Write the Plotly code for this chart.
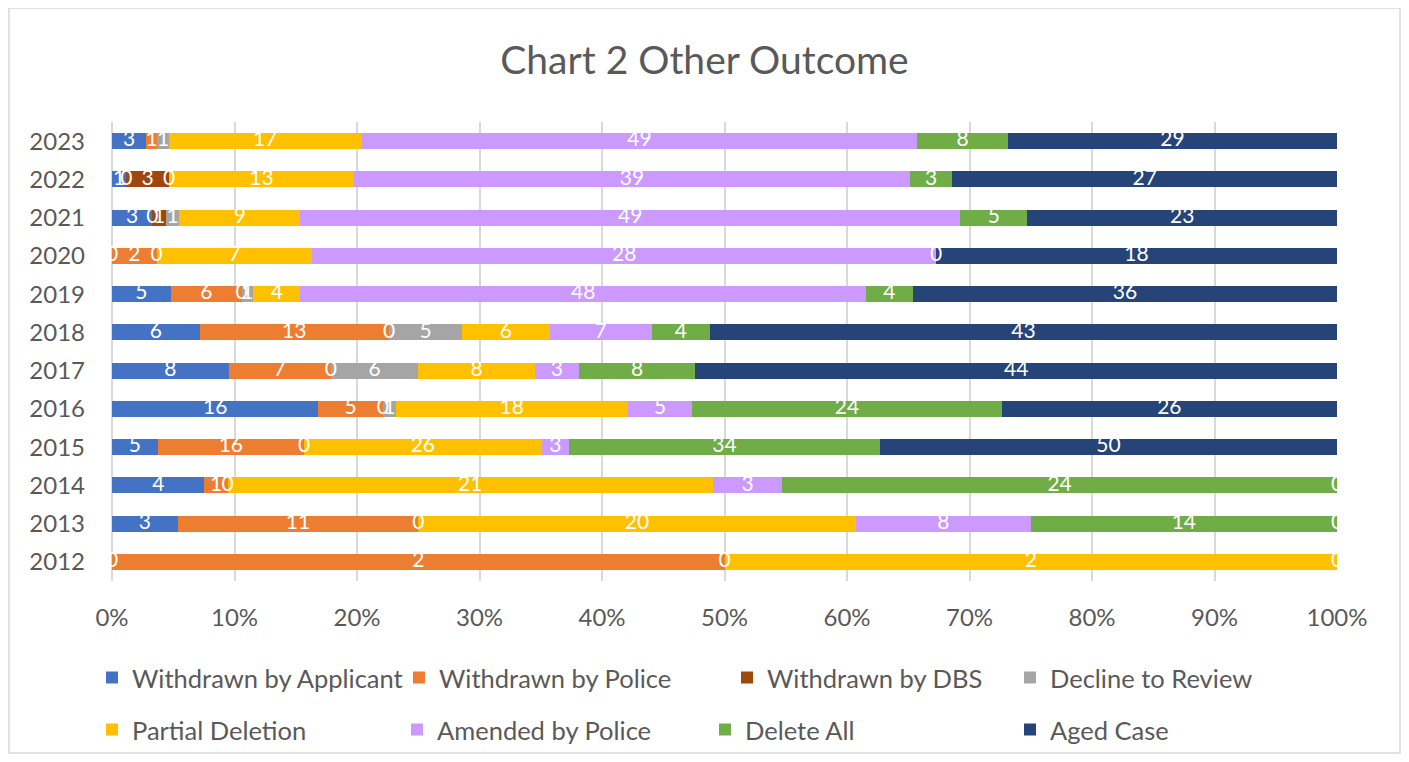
import plotly.graph_objects as go

years = ["2012", "2013", "2014", "2015", "2016", "2017", "2018", "2019", "2020", "2021", "2022", "2023"]

withdrawn_applicant = [0, 3, 4, 5, 16, 8, 6, 5, 0, 3, 1, 3]
withdrawn_police = [2, 11, 1, 16, 5, 7, 13, 6, 2, 0, 0, 1]
withdrawn_dbs = [0, 0, 0, 0, 0, 0, 0, 0, 0, 1, 3, None]
decline_review = [None, None, None, None, 1, 6, 5, 1, None, 1, 0, 1]
partial_deletion = [2, 20, 21, 26, 18, 8, 6, 4, 7, 9, 13, 17]
amended_police = [None, 8, 3, 3, 5, 3, 7, 48, 28, 49, 39, 49]
delete_all = [None, 14, 24, 34, 24, 8, 4, 4, 0, 5, 3, 8]
aged_case = [0, 0, 0, 50, 26, 44, 43, 36, 18, 23, 27, 29]

x_ticks = [0, 10, 20, 30, 40, 50, 60, 70, 80, 90, 100]
x_tick_labels = ["0%", "10%", "20%", "30%", "40%", "50%", "60%", "70%", "80%", "90%", "100%"]

series_names = ["Withdrawn by Applicant", "Withdrawn by Police", "Withdrawn by DBS",
                "Decline to Review", "Partial Deletion", "Amended by Police",
                "Delete All", "Aged Case"]
series_values = [withdrawn_applicant, withdrawn_police, withdrawn_dbs, decline_review,
                 partial_deletion, amended_police, delete_all, aged_case]
series_colors = ["#4472C4", "#ED7D31", "#9E480E", "#A5A5A5",
                 "#FFC000", "#CC99FF", "#70AD47", "#264478"]

FONT = "Lato"
GREY = "#595959"
OFF = 8  # page body margin
W, H = 1409 - 2 * OFF, 762 - 2 * OFF
ML = 112 - OFF
MT = 122 - OFF
MR = W - (1337 - OFF)
MB = H - (581 - OFF)

fig = go.Figure()

legend_pos = [(107, 678), (414, 678), (742, 678), (1025, 678),
              (107, 730), (412, 730), (720, 730), (1025, 730)]

for i, (name, vals, col) in enumerate(zip(series_names, series_values, series_colors)):
    lname = "legend" if i == 0 else f"legend{i+1}"
    fig.add_trace(go.Bar(
        y=years, x=vals, name=name, orientation="h",
        marker=dict(color=col, line=dict(width=0)),
        legend=lname, hoverinfo="name+x",
    ))

# data labels (centered in each segment, percent scale)
lab_x, lab_y, lab_t = [], [], []
for j, yr in enumerate(years):
    total = sum(v[j] for v in series_values if v[j] is not None)
    cum = 0
    for vals in series_values:
        v = vals[j]
        if v is None:
            continue
        lab_x.append((cum + v / 2) / total * 100)
        lab_y.append(yr)
        lab_t.append(str(v))
        cum += v

fig.add_trace(go.Scatter(
    x=lab_x, y=lab_y, text=lab_t, mode="text",
    textfont=dict(family=FONT, size=21, color="white"),
    showlegend=False, hoverinfo="skip", cliponaxis=False,
))

layout_legends = {}
for i, (px, py) in enumerate(legend_pos):
    lname = "legend" if i == 0 else f"legend{i+1}"
    layout_legends[lname] = dict(
        xref="container", yref="container",
        x=(px - OFF - 15) / W, y=1 - (py - OFF) / H, xanchor="left", yanchor="middle",
        orientation="h", bgcolor="rgba(0,0,0,0)", itemwidth=30,
        font=dict(family=FONT, size=25.5, color=GREY),
    )

plot_h = H - MT - MB
plot_w = W - ML - MR
fig.update_layout(
    width=W, height=H,
    margin=dict(l=ML, r=MR, t=MT, b=MB, autoexpand=False),
    paper_bgcolor="white", plot_bgcolor="white",
    barmode="stack", barnorm="percent", bargap=0.58,
    title=dict(text="Chart 2 Other Outcome", xref="container", x=0.5, xanchor="center",
               yref="container", y=1 - (60 - OFF) / H, yanchor="middle",
               font=dict(family=FONT, size=39, color=GREY)),
    font=dict(family=FONT, color=GREY),
    xaxis=dict(range=[0, 100], tickmode="array", tickvals=x_ticks, ticktext=x_tick_labels,
               showgrid=True, gridcolor="#D9D9D9", gridwidth=2, automargin=False,
               zeroline=True, zerolinecolor="#D9D9D9", zerolinewidth=2,
               showline=False, ticks="", ticklabelstandoff=20,
               tickfont=dict(family=FONT, size=24, color=GREY), fixedrange=True),
    yaxis=dict(showgrid=False, showline=False, zeroline=False, ticks="", automargin=False,
               range=[-0.5, len(years) - 0.5],
               ticklabelstandoff=26, categoryorder="array", categoryarray=years,
               tickfont=dict(family=FONT, size=24, color=GREY), fixedrange=True),
    shapes=[dict(type="rect", xref="paper", yref="paper",
                 x0=(9 - 112) / plot_w, x1=(1400 - 112) / plot_w,
                 y0=(581 - 753) / plot_h, y1=(581 - 8) / plot_h,
                 line=dict(color="#D9D9D9", width=1.5), layer="below")],
    **layout_legends,
)

fig.write_html("out.html")
